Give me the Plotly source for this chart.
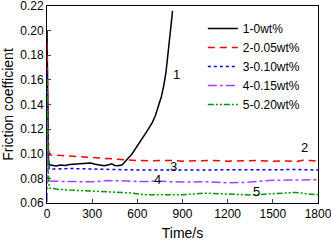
import plotly.graph_objects as go

# ---- data ----
t1 = [0, 2, 5, 10, 15, 30, 60, 90, 120, 150, 180, 210, 240, 270, 290, 320, 350, 380, 410, 430, 450, 470, 500,
      520, 540, 560, 580, 600, 620, 640, 660, 680, 700, 720, 740, 760, 775, 790, 800, 810, 820, 828, 834]
v1 = [0.200, 0.170, 0.120, 0.095, 0.0910, 0.0905, 0.0900, 0.0908, 0.0905, 0.0912, 0.0915, 0.0918, 0.0922,
      0.0928, 0.0925, 0.0915, 0.0908, 0.0902, 0.0910, 0.0918, 0.0905, 0.0902, 0.0910,
      0.0940, 0.0965, 0.0990, 0.1025, 0.1060, 0.1100, 0.1135, 0.1175, 0.1215, 0.1255, 0.1310, 0.1380,
      0.1465, 0.1550, 0.1660, 0.1770, 0.1900, 0.2030, 0.2110, 0.2160]

t2 = [0, 3, 8, 15, 50, 100, 150, 200, 250, 300, 350, 400, 450, 500, 550, 600, 700, 800, 900, 1000,
      1100, 1200, 1300, 1400, 1500, 1600, 1650, 1700, 1750, 1800]
v2 = [0.190, 0.150, 0.110, 0.0990, 0.0990, 0.0985, 0.0982, 0.0980, 0.0975, 0.0970, 0.0965, 0.0960, 0.0955,
      0.0950, 0.0945, 0.0945, 0.0943, 0.0946, 0.0940, 0.0944, 0.0946, 0.0940, 0.0944, 0.0945, 0.0940,
      0.0942, 0.0935, 0.0948, 0.0945, 0.0938]

t3 = [0, 3, 8, 15, 60, 150, 300, 450, 600, 750, 900, 1050, 1200, 1350, 1500, 1650, 1800]
v3 = [0.168, 0.130, 0.095, 0.0878, 0.0876, 0.0880, 0.0875, 0.0872, 0.0868, 0.0868, 0.0865, 0.0868,
      0.0870, 0.0868, 0.0870, 0.0872, 0.0868]

t4 = [0, 2, 5, 10, 15, 60, 150, 300, 400, 450, 500, 600, 750, 900, 1050, 1200, 1300, 1400, 1500,
      1600, 1700, 1800]
v4 = [0.061, 0.135, 0.095, 0.0800, 0.0778, 0.0776, 0.0775, 0.0772, 0.0782, 0.0778, 0.0780, 0.0775,
      0.0776, 0.0770, 0.0772, 0.0765, 0.0766, 0.0775, 0.0785, 0.0786, 0.0790, 0.0789]

t5 = [0, 3, 8, 15, 60, 150, 250, 355, 450, 550, 650, 750, 900, 1050, 1200, 1300, 1380, 1450, 1550,
      1650, 1720, 1800]
v5 = [0.160, 0.120, 0.085, 0.0722, 0.0713, 0.0705, 0.0698, 0.0690, 0.0688, 0.0682, 0.0668, 0.0670,
      0.0667, 0.0680, 0.0675, 0.0670, 0.0664, 0.0672, 0.0678, 0.0686, 0.0675, 0.0668]

names = ["1-0wt%", "2-0.05wt%", "3-0.10wt%", "4-0.15wt%", "5-0.20wt%"]
colors = ["#000000", "#FF0000", "#0000FF", "#A640FF", "#009900"]
dashes = ["solid", "7px,5px", "dot", "dashdot", "6px,2px,2px,2px,2px,2px"]

label_text = ["1", "2", "3", "4", "5"]
label_x = [862, 1707, 839, 733, 1389]
label_y = [0.164, 0.1048, 0.0894, 0.0794, 0.0694]

x_ticks = [0, 300, 600, 900, 1200, 1500, 1800]
y_ticks = [0.06, 0.08, 0.10, 0.12, 0.14, 0.16, 0.18, 0.20, 0.22]

FONT = "Arial, Liberation Sans, sans-serif"

fig = go.Figure()
for t, v, n, c, d in zip([t1, t2, t3, t4, t5], [v1, v2, v3, v4, v5], names, colors, dashes):
    fig.add_trace(go.Scatter(x=t, y=v, mode="lines", name=n,
                             line=dict(color=c, width=1.5, dash=d)))

for s, x, y in zip(label_text, label_x, label_y):
    fig.add_annotation(x=x, y=y, text=s, showarrow=False,
                       font=dict(family=FONT, size=13, color="#000"))

fig.update_layout(
    width=331, height=241,
    margin=dict(l=47, r=13, t=6, b=38, autoexpand=False),
    paper_bgcolor="white", plot_bgcolor="white",
    font=dict(family=FONT, size=12, color="#000"),
    showlegend=True,
    legend=dict(x=0.575, y=0.96, xanchor="left", yanchor="top",
                bgcolor="rgba(0,0,0,0)", borderwidth=0,
                font=dict(family=FONT, size=12, color="#000"), itemwidth=30),
    xaxis=dict(range=[0, 1800], tickvals=x_ticks, ticks="inside", ticklen=4,
               showline=True, linecolor="#000", linewidth=1, mirror=True,
               showgrid=False, zeroline=False, automargin=False,
               ticklabeloverflow="allow",
               title=dict(text="Time/s", font=dict(size=14), standoff=8),
               tickfont=dict(size=12)),
    yaxis=dict(range=[0.06, 0.22], tickvals=y_ticks, tickformat=".2f",
               ticks="inside", ticklen=4,
               showline=True, linecolor="#000", linewidth=1, mirror=True,
               showgrid=False, zeroline=False, automargin=False,
               ticklabeloverflow="allow",
               title=dict(text="Friction coefficient", font=dict(size=14), standoff=4),
               tickfont=dict(size=12)),
)

fig.write_html("out.html", config={"displayModeBar": False},
               post_script="document.body.style.margin='0';document.body.style.overflow='hidden';")
